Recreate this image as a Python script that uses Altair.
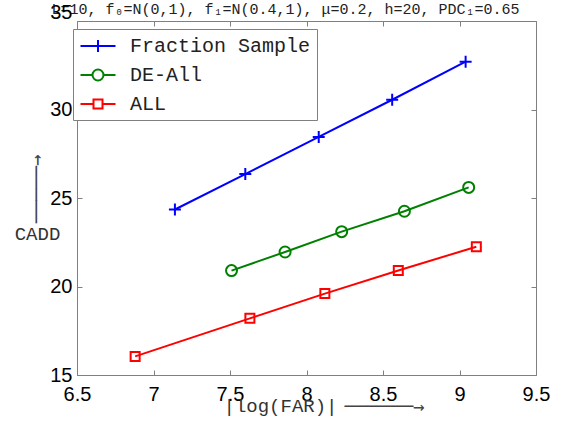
import altair as alt
import pandas as pd

# ---- data ----
series = ["Fraction Sample", "DE-All", "ALL"]
colors = ["#0000ff", "#008000", "#ff0000"]

frac_x = [7.14, 7.60, 8.08, 8.56, 9.04]
frac_y = [24.35, 26.35, 28.45, 30.55, 32.70]
de_x = [7.51, 7.86, 8.23, 8.64, 9.06]
de_y = [20.90, 21.95, 23.10, 24.25, 25.60]
all_x = [6.88, 7.63, 8.12, 8.60, 9.11]
all_y = [16.05, 18.20, 19.60, 20.90, 22.25]

x_ticks = [6.5, 7, 7.5, 8, 8.5, 9, 9.5]
y_ticks = [15, 20, 25, 30, 35]

title_text = "L=10, f₀=N(0,1), f₁=N(0.4,1), μ=0.2, h=20, PDC₁=0.65"

rows = []
for name, xs, ys in zip(series, [frac_x, de_x, all_x], [frac_y, de_y, all_y]):
    for a, b in zip(xs, ys):
        rows.append({"series": name, "far": a, "cadd": b})
df = pd.DataFrame(rows)

MONO = "Liberation Mono"
ARROWFONT = "DejaVu Sans Mono"
SANS = "Liberation Sans"
GRAY = "#808080"

xscale = alt.Scale(domain=[6.5, 9.5], nice=False, zero=False)
yscale = alt.Scale(domain=[15, 35], nice=False, zero=False)

# markers on the data
marker_shapes = ["M-1,0H1M0,-1V1", "circle", "square"]
marker_sizes = [144, 121, 81]
# legend symbols: line + marker (unit = 10 px)
legend_paths = [
    "M-1.75,0H1.75M0,-0.6V0.6",
    "M-1.75,0H-0.55M0.55,0H1.75M-0.55,0A0.55,0.55,0,1,0,0.55,0A0.55,0.55,0,1,0,-0.55,0",
    "M-1.75,0H-0.45M0.45,0H1.75M-0.45,-0.45H0.45V0.45H-0.45Z",
]

# ---- axes ----
label_x_axis = alt.Axis(
    orient="bottom", values=x_ticks, format="~g", ticks=False, domain=False, grid=False,
    labelFont=SANS, labelFontSize=20, labelColor="#000", labelPadding=9,
    labelFlush=False, labelOverlap=False,
    title="|log(FAR)|", titleFont=MONO, titleFontSize=19, titleFontWeight="normal",
    titleColor="#333", titleX=203, titleY=30, titleAlign="center", titleBaseline="middle",
)
label_y_axis = alt.Axis(
    orient="left", values=y_ticks, format="d", ticks=False, domain=False, grid=False,
    labelFont=SANS, labelFontSize=20, labelColor="#000", labelPadding=5,
    labelFlush=False, labelOverlap=False,
    labelOffset={"condition": {"test": "datum.value == 35", "value": -9}, "value": 0},
    title="CADD", titleFont=MONO, titleFontSize=19, titleFontWeight="normal",
    titleColor="#333", titleAngle=0, titleX=-40, titleY=212,
    titleAlign="center", titleBaseline="middle",
)


def tick_axis(orient, values, title=None, font=ARROWFONT, size=19, color="#444", **kw):
    params = dict(
        orient=orient, offset=-5, values=values, ticks=True, tickSize=5,
        tickColor=GRAY, tickWidth=1, labels=False, domain=False, grid=False,
    )
    if title is not None:
        params.update(dict(title=title, titleFont=font, titleFontSize=size,
                           titleFontWeight="normal", titleColor=color))
        params.update(kw)
    else:
        params["title"] = None
    return alt.Axis(**params)


x_bottom_ticks = tick_axis("bottom", x_ticks, "──────→", titleX=307, titleY=36,
                           titleAlign="center", titleBaseline="middle")
y_left_ticks = tick_axis("left", y_ticks, "─────→", titleAngle=270, titleX=-46,
                         titleY=167.5, titleAlign="center", titleBaseline="middle")
# the top axis carries the chart's heading line
x_top_ticks = tick_axis("top", x_ticks, title_text, font=MONO, size=15, color="#222",
                        titleX=208, titleY=-13, titleAlign="center",
                        titleBaseline="alphabetic", titleAngle=0)
y_right_ticks = tick_axis("right", y_ticks)

axis_plan = {
    (0, "line"): (label_x_axis, label_y_axis),
    (0, "point"): (x_bottom_ticks, y_left_ticks),
    (1, "line"): (x_top_ticks, y_right_ticks),
}

layers = []
for i, name in enumerate(series):
    base = alt.Chart(df).transform_filter(alt.datum.series == name)
    ax = axis_plan.get((i, "line"), (None, None))
    line = base.mark_line(color=colors[i], strokeWidth=2).encode(
        x=alt.X("far:Q", scale=xscale, axis=ax[0]),
        y=alt.Y("cadd:Q", scale=yscale, axis=ax[1]),
    )
    ax = axis_plan.get((i, "point"), (None, None))
    pts = base.mark_point(
        shape=marker_shapes[i], size=marker_sizes[i], color=colors[i],
        strokeWidth=2, filled=False, opacity=1,
    ).encode(
        x=alt.X("far:Q", scale=xscale, axis=ax[0]),
        y=alt.Y("cadd:Q", scale=yscale, axis=ax[1]),
    )
    layers += [line, pts]

leg = alt.Legend(
    title=None, orient="none", legendX=-4, legendY=8, padding=6,
    fillColor="white", strokeColor=GRAY, symbolSize=400, symbolStrokeWidth=2,
    symbolOffset=8, labelFont=MONO, labelFontSize=20, labelColor="#222",
    labelOffset=21, labelLimit=400, rowPadding=8,
)
legend_layer = alt.Chart(df).transform_filter("false").mark_point(
    filled=False, strokeWidth=2, opacity=1
).encode(
    x=alt.X("far:Q", scale=xscale, axis=None),
    y=alt.Y("cadd:Q", scale=yscale, axis=None),
    color=alt.Color("series:N", scale=alt.Scale(domain=series, range=colors), legend=leg),
    shape=alt.Shape("series:N", scale=alt.Scale(domain=series, range=legend_paths), legend=leg),
)
layers.append(legend_layer)

chart = alt.layer(*layers).resolve_axis(
    x="independent", y="independent"
).properties(
    width=459, height=354,
    autosize=alt.AutoSizeParams(type="none"),
    padding={"left": 77, "top": 21, "right": 37, "bottom": 48},
).configure_view(stroke=GRAY, strokeWidth=1)

chart.save("out.html", embed_options={"renderer": "svg", "actions": False})
